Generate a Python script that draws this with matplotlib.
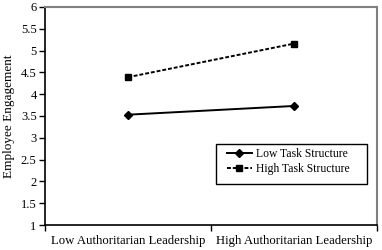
import matplotlib
matplotlib.use("Agg")
import matplotlib.pyplot as plt
from matplotlib.patches import Rectangle

categories = ["Low Authoritarian Leadership", "High Authoritarian Leadership"]
low_task = [3.53, 3.73]
high_task = [4.39, 5.16]
yticks = [1, 1.5, 2, 2.5, 3, 3.5, 4, 4.5, 5, 5.5, 6]

plt.rcParams['font.family'] = ['Liberation Serif', 'DejaVu Serif']

fig = plt.figure(figsize=(3.82, 2.5), dpi=100)
ax = fig.add_axes([45 / 382, 25 / 250, 332 / 382, 218 / 250])

xpos = [0.5, 1.5]
ax.plot(xpos, low_task, color='black', linestyle='-', linewidth=1.4,
        marker='D', markersize=3.8, label='Low Task Structure')
ax.plot(xpos, high_task, color='black', linestyle=(0, (2.0, 1.0)), linewidth=1.4,
        marker='s', markersize=4.8, label='High Task Structure')

ax.set_xlim(0, 2)
ax.set_ylim(1, 6)
ax.set_yticks(yticks)
ax.set_yticklabels([f"{t:g}" for t in yticks], fontsize=9)
ax.set_xticks([0, 1, 2])
ax.set_xticklabels([])
ax.set_xticks(xpos, minor=True)
ax.set_xticklabels(categories, minor=True, fontsize=9.2)
ax.tick_params(axis='x', which='minor', length=0, pad=7)
ax.tick_params(axis='x', which='major', length=4, direction='out', width=1)
ax.tick_params(axis='y', length=4, direction='out', width=1, pad=2)
ax.set_ylabel("Employee Engagement", fontsize=9.5, labelpad=4)

for s in ['top', 'right']:
    ax.spines[s].set_color('#808080')
    ax.spines[s].set_linewidth(1.5)
for s in ['left', 'bottom']:
    ax.spines[s].set_color('black')
    ax.spines[s].set_linewidth(1.2)

# legend box drawn separately (Excel-style frame with extra space)
ax.add_patch(Rectangle((0.515, 0.188), 0.455, 0.183, transform=ax.transAxes,
                       fill=False, edgecolor='black', linewidth=1.0))
ax.legend(loc='center left', bbox_to_anchor=(0.548, 0.291), frameon=False,
          fontsize=8.4, borderpad=0, borderaxespad=0, handlelength=2.15,
          labelspacing=0.28, handletextpad=0.3)

fig.savefig("out.png", dpi=100)
